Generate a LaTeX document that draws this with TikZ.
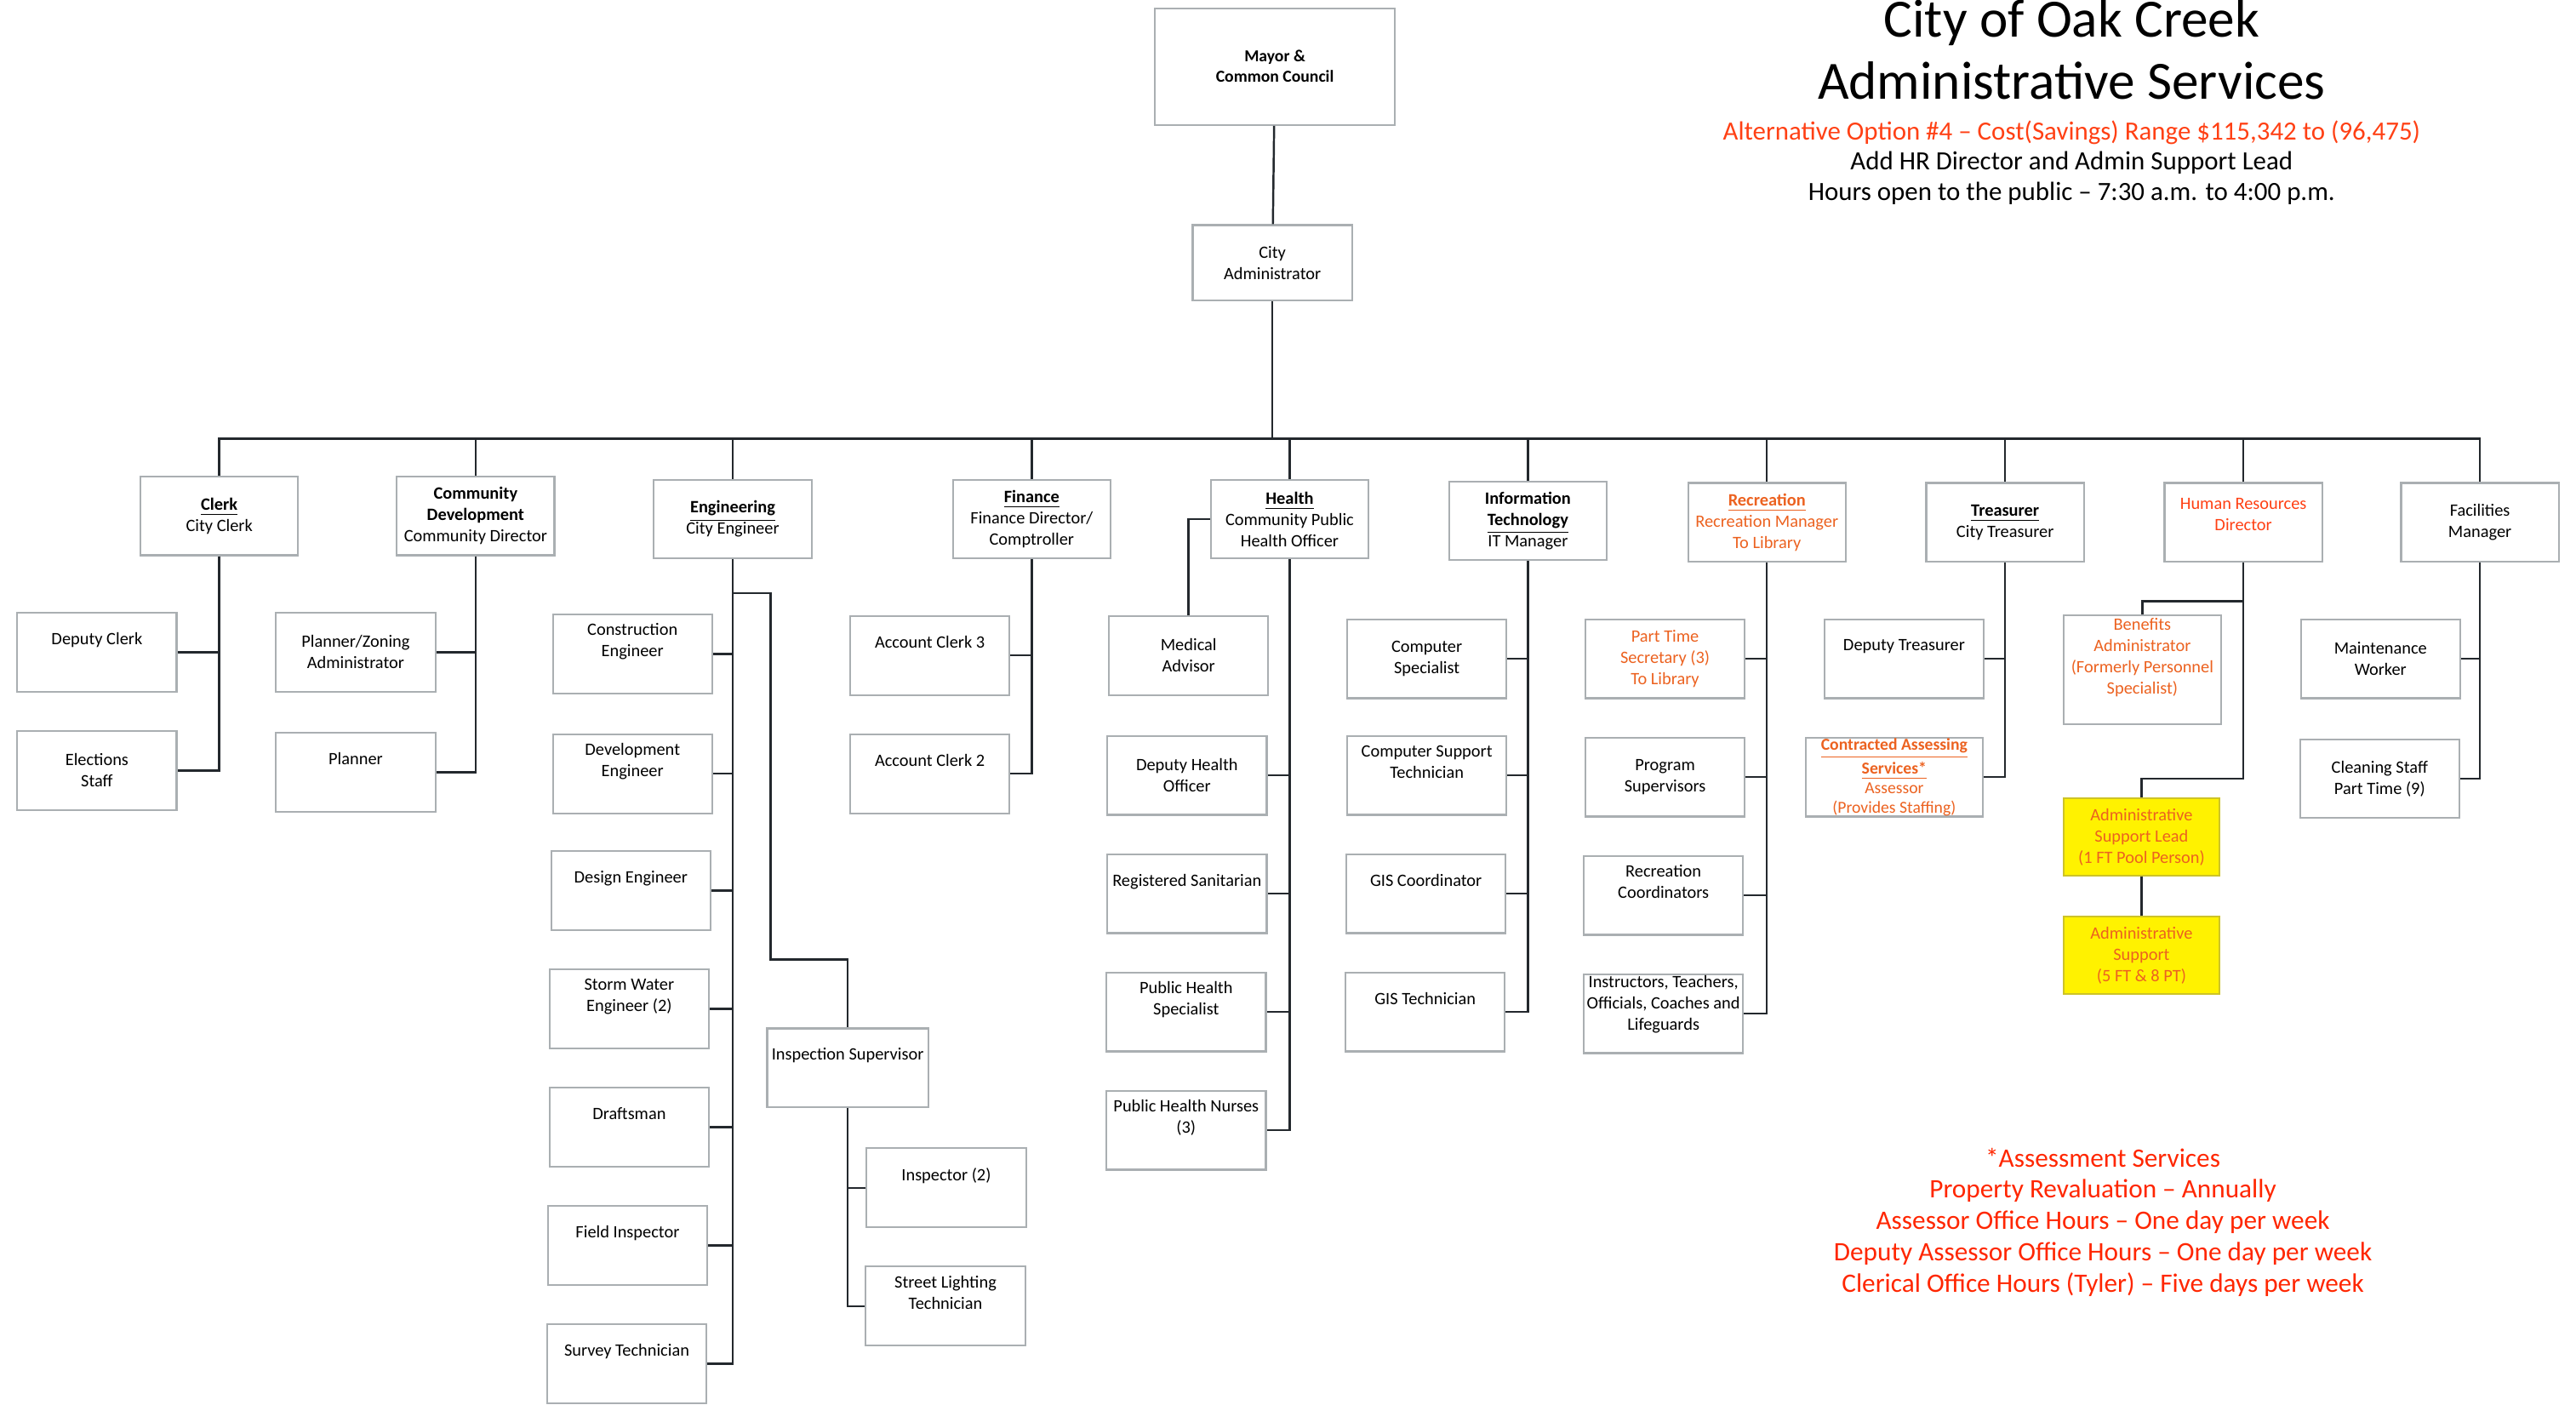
\documentclass[tikz,border=0pt]{standalone}
\usepackage{fontspec}
\setmainfont{Carlito}
\usetikzlibrary{positioning}

\definecolor{hrred}{RGB}{255,64,20}
\definecolor{recorange}{RGB}{236,98,32}
\definecolor{notered}{RGB}{255,38,0}
\definecolor{leadyellow}{RGB}{255,242,0}
\definecolor{linegray}{RGB}{35,40,45}
\definecolor{boxgray}{RGB}{170,175,178}

% extra empty line under the text, lifts it towards the top of the box
\newcommand{\pushup}{\\[2pt]\mbox{}}

\begin{document}
\begin{tikzpicture}[x=0.19305mm,y=-0.19305mm,
  font=\fontsize{5.8}{7.1}\selectfont,
  orgbox/.style={draw=boxgray,line width=0.6pt,fill=white,align=center,inner sep=1pt},
  headbox/.style={orgbox,minimum width=18.53mm,minimum height=9.27mm},
  jobbox/.style={orgbox,minimum width=18.73mm,minimum height=9.27mm},
  yellowbox/.style={orgbox,fill=leadyellow,draw={rgb,255:red,205;green,195;blue,40},text=recorange,minimum width=18.34mm,minimum height=9.07mm},
  link/.style={draw=linegray,line width=0.7pt}]
\useasboundingbox (0,0) rectangle (1568,855);

% titles
\node[font=\fontsize{18}{20.8}\selectfont,align=center] (title) at (1261,30) {City of Oak Creek\\Administrative Services};
\node[font=\fontsize{8.8}{10.2}\selectfont,align=center] (subtitle) at (1261,99) {\textcolor{hrred}{Alternative Option \#4 -- Cost(Savings) Range \$115,342 to (96,475)}\\Add HR Director and Admin Support Lead\\Hours open to the public -- 7:30 a.m. to 4:00 p.m.};
\node[font=\fontsize{8.9}{10.5}\selectfont,align=center,text=notered] (assessnote) at (1280,744) {*Assessment Services\\Property Revaluation -- Annually\\Assessor Office Hours -- One day per week\\Deputy Assessor Office Hours -- One day per week\\Clerical Office Hours (Tyler) -- Five days per week};

% top
\node[orgbox,minimum width=28.19mm,minimum height=13.71mm,font=\fontsize{5.6}{6.8}\selectfont\bfseries] (mayor) at (776,40.5) {Mayor \&\\Common Council};
\node[orgbox,minimum width=18.73mm,minimum height=8.88mm] (admin) at (774.5,160) {City\\Administrator};
\coordinate (bus) at (774.5,267);

% departments
\node[headbox] (clerk) at (133.5,314) {\textbf{\underline{Clerk}}\\City Clerk};
\node[headbox] (commdev) at (289.5,314) {\textbf{Community}\\\textbf{Development}\\Community Director};
\node[headbox] (eng) at (446,316) {\textbf{\underline{Engineering}}\\City Engineer};
\node[headbox] (fin) at (628,316) {\textbf{\underline{Finance}}\\Finance Director/\\Comptroller};
\node[headbox] (health) at (785,316) {\textbf{\underline{Health}}\\Community Public\\Health Officer};
\node[headbox] (it) at (930,317) {\textbf{Information}\\\textbf{\underline{Technology}}\\IT Manager};
\node[headbox,text=recorange] (rec) at (1075.5,318) {\textbf{\underline{Recreation}}\\Recreation Manager\\To Library};
\node[headbox] (treas) at (1220.5,318) {\textbf{\underline{Treasurer}}\\City Treasurer};
\node[headbox,text=hrred] (hr) at (1365.5,318) {Human Resources\\Director\\[-2pt]\mbox{}};
\node[headbox] (fac) at (1509.5,318) {Facilities\\Manager};

% staff
\node[jobbox] (dclerk) at (59,397) {Deputy Clerk\pushup};
\node[jobbox] (elect) at (59,469) {Elections\\Staff};
\node[jobbox] (pzoning) at (216.5,397) {Planner/Zoning\\Administrator};
\node[jobbox] (planner) at (216.5,470) {Planner\pushup};

\node[jobbox] (conseng) at (385,398) {Construction\\Engineer\pushup};
\node[jobbox] (deveng) at (385,471) {Development\\Engineer\pushup};
\node[jobbox] (design) at (384,542) {Design Engineer\pushup};
\node[jobbox] (storm) at (383,614) {Storm Water\\Engineer (2)\pushup};
\node[jobbox] (draft) at (383,686) {Draftsman\pushup};
\node[jobbox] (field) at (382,758) {Field Inspector\pushup};
\node[jobbox] (survey) at (381.5,830) {Survey Technician\pushup};
\node[jobbox,minimum width=18.92mm] (insp) at (516,650) {Inspection Supervisor\pushup};
\node[jobbox] (inspector) at (576,723) {Inspector (2)\pushup};
\node[jobbox] (streetl) at (575.5,795) {Street Lighting\\Technician\pushup};

\node[jobbox] (ac3) at (566,399) {Account Clerk 3\pushup};
\node[jobbox] (ac2) at (566,471) {Account Clerk 2\pushup};

\node[jobbox] (medadv) at (723.5,399) {Medical\\Advisor};
\node[jobbox] (dho) at (722.5,472) {Deputy Health\\Officer};
\node[jobbox] (regsan) at (722.5,544) {Registered Sanitarian\pushup};
\node[jobbox] (phs) at (722,616) {Public Health\\Specialist\pushup};
\node[jobbox] (phn) at (722,688) {Public Health Nurses\\(3)\pushup};

\node[jobbox] (compspec) at (868.5,401) {Computer\\Specialist};
\node[jobbox] (cst) at (868.5,472) {Computer Support\\Technician\pushup};
\node[jobbox] (giscoord) at (868,544) {GIS Coordinator\pushup};
\node[jobbox] (gistech) at (867.5,616) {GIS Technician\pushup};

\node[jobbox,text=recorange] (pts) at (1013.5,401) {Part Time\\Secretary (3)\\To Library};
\node[jobbox] (progsup) at (1013.5,473) {Program\\Supervisors};
\node[jobbox] (reccoord) at (1012.5,545) {Recreation\\Coordinators\pushup};
\node[jobbox,inner sep=0pt] (instr) at (1012.5,617) {Instructors, Teachers,\\Officials, Coaches and\\Lifeguards\\[0pt]\mbox{}};

\node[jobbox] (deptreas) at (1159,401) {Deputy Treasurer\pushup};
\node[jobbox,minimum width=20.85mm,inner sep=0pt,text=recorange,font=\fontsize{5.6}{6.5}\selectfont] (assess) at (1153,473) {\textbf{\underline{Contracted Assessing}}\\\textbf{\underline{Services*}}\\Assessor\\(Provides Staffing)};

\node[jobbox,minimum width=18.53mm,minimum height=11.78mm,text=recorange] (benefits) at (1304,407.5) {Benefits\\Administrator\\(Formerly Personnel\\Specialist)\pushup};
\node[yellowbox] (lead) at (1303.5,509.5) {Administrative\\Support Lead\\(1 FT Pool Person)};
\node[yellowbox] (support) at (1303.5,581.5) {Administrative\\Support\\(5 FT \& 8 PT)};

\node[jobbox] (maint) at (1449,401) {Maintenance\\Worker};
\node[jobbox] (clean) at (1448.5,474) {Cleaning Staff\\Part Time (9)};

% connectors
\draw[link] (mayor) -- (admin);
\draw[link] (admin) -- (bus);
\draw[link] (bus) -| (clerk);
\draw[link] (bus) -| (commdev);
\draw[link] (bus) -| (eng);
\draw[link] (bus) -| (fin);
\draw[link] (bus) -| (health);
\draw[link] (bus) -| (it);
\draw[link] (bus) -| (rec);
\draw[link] (bus) -| (treas);
\draw[link] (bus) -| (hr);
\draw[link] (bus) -| (fac);

\draw[link] (clerk) |- (dclerk);
\draw[link] (clerk) |- (elect);
\draw[link] (commdev) |- (pzoning);
\draw[link] (commdev) |- (planner);

\draw[link] (eng) |- (conseng);
\draw[link] (eng) |- (deveng);
\draw[link] (eng) |- (design);
\draw[link] (eng) |- (storm);
\draw[link] (eng) |- (draft);
\draw[link] (eng) |- (field);
\draw[link] (eng) |- (survey);
\coordinate (engtap) at (469,361);
\coordinate (engjog) at (469,584);
\draw[link] (eng) |- (engtap) -- (engjog) -| (insp);
\draw[link] (insp) |- (inspector);
\draw[link] (insp) |- (streetl);

\draw[link] (fin) |- (ac3);
\draw[link] (fin) |- (ac2);

\draw[link] (health) -| (medadv);
\draw[link] (health) |- (dho);
\draw[link] (health) |- (regsan);
\draw[link] (health) |- (phs);
\draw[link] (health) |- (phn);

\draw[link] (it) |- (compspec);
\draw[link] (it) |- (cst);
\draw[link] (it) |- (giscoord);
\draw[link] (it) |- (gistech);

\draw[link] (rec) |- (pts);
\draw[link] (rec) |- (progsup);
\draw[link] (rec) |- (reccoord);
\draw[link] (rec) |- (instr);

\draw[link] (treas) |- (deptreas);
\draw[link] (treas) |- (assess);

\coordinate (hrben) at (1365.5,366);
\coordinate (hrlead) at (1365.5,474);
\draw[link] (hr) -- (hrben) -| (benefits);
\draw[link] (hrben) -- (hrlead) -| (lead);
\draw[link] (lead) -- (support);

\draw[link] (fac) |- (maint);
\draw[link] (fac) |- (clean);
\end{tikzpicture}
\end{document}
